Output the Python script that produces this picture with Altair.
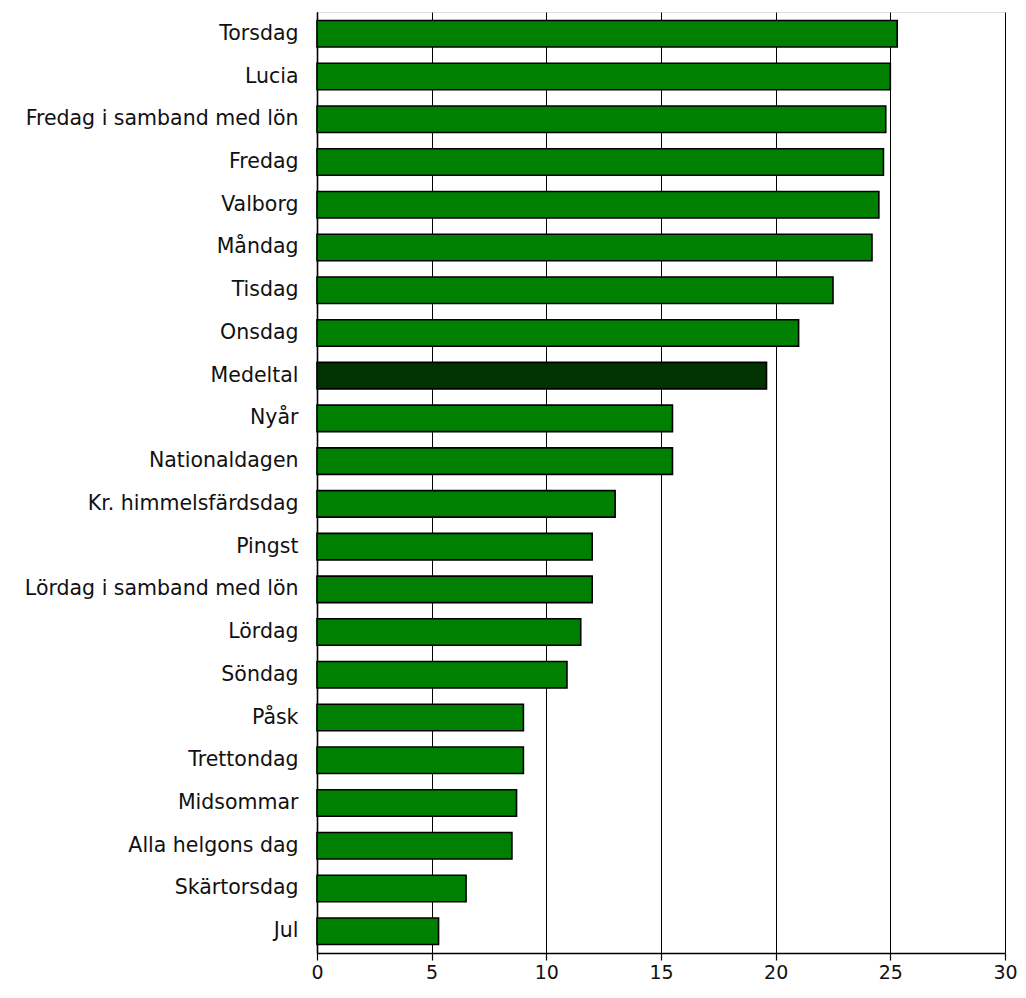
import altair as alt
import pandas as pd

categories = [
    "Torsdag", "Lucia", "Fredag i samband med lön", "Fredag", "Valborg",
    "Måndag", "Tisdag", "Onsdag", "Medeltal", "Nyår", "Nationaldagen",
    "Kr. himmelsfärdsdag", "Pingst", "Lördag i samband med lön", "Lördag",
    "Söndag", "Påsk", "Trettondag", "Midsommar", "Alla helgons dag",
    "Skärtorsdag", "Jul",
]
values = [
    25.3, 25.0, 24.8, 24.7, 24.5,
    24.2, 22.5, 21.0, 19.6, 15.5, 15.5,
    13.0, 12.0, 12.0, 11.5,
    10.9, 9.0, 9.0, 8.7, 8.5,
    6.5, 5.3,
]
highlight = ["Medeltal"]
x_ticks = [0, 5, 10, 15, 20, 25, 30]

df = pd.DataFrame({"category": categories, "value": values})
df["kind"] = ["avg" if c in highlight else "day" for c in categories]

FONT = "DejaVu Sans"

bars = alt.Chart(df).mark_bar(stroke="black", strokeWidth=1.6).encode(
    y=alt.Y(
        "category:N",
        sort=categories,
        title=None,
        scale=alt.Scale(paddingInner=0.38, paddingOuter=0.2),
        axis=alt.Axis(
            ticks=False, labelFontSize=20.5, labelFont=FONT, labelColor="#111",
            labelPadding=19, labelLimit=0, domainColor="black", domainWidth=1.6,
            grid=False,
        ),
    ),
    x=alt.X(
        "value:Q",
        title=None,
        scale=alt.Scale(domain=[0, 30], nice=False),
        axis=alt.Axis(
            values=x_ticks, labelFontSize=19, labelFont=FONT,
            labelColor="#111", tickSize=7, tickColor="black", tickWidth=1.2,
            domainColor="black", domainWidth=1.6, grid=True, gridColor="black",
            gridWidth=1, gridOpacity=1, labelPadding=3, labelFlush=False,
        ),
    ),
    color=alt.Color(
        "kind:N",
        scale=alt.Scale(domain=["day", "avg"], range=["#008000", "#003300"]),
        legend=None,
    ),
)

chart = bars.properties(
    width=688,
    height=941,
    autosize=alt.AutoSizeParams(type="none"),
    padding={"left": 309, "top": 4, "right": 13, "bottom": 34},
).configure_view(
    stroke="black", strokeWidth=1.6
).configure(background="white")

chart.save("out.html", embed_options={"renderer": "svg", "actions": False})
